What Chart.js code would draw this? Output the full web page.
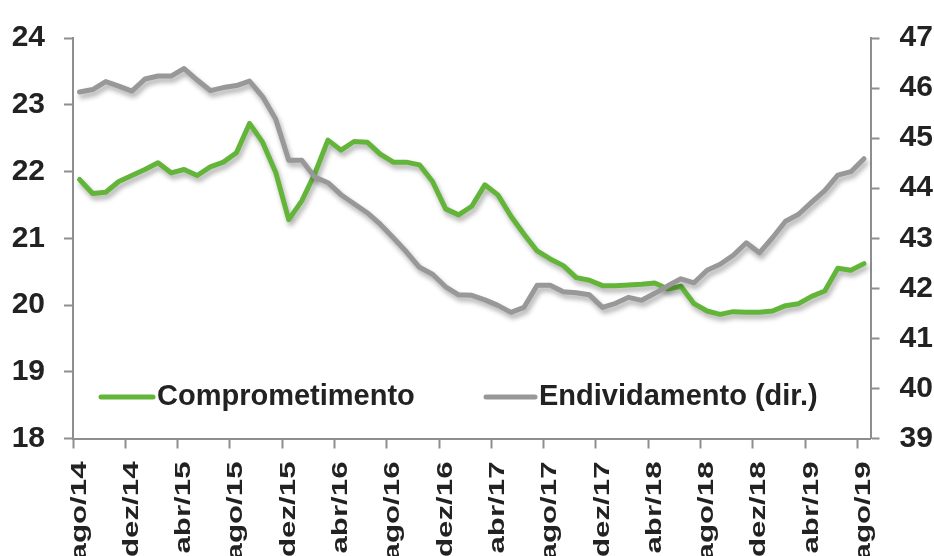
<!DOCTYPE html>
<html>
<head>
<meta charset="utf-8">
<script src="https://cdn.jsdelivr.net/npm/chart.js@4.4.1/dist/chart.umd.min.js"></script>
<style>
  html, body { margin: 0; padding: 0; background: #ffffff; }
  #wrap { width: 934px; height: 556px; position: relative; }
</style>
</head>
<body>
<div id="wrap"><canvas id="chart"></canvas></div>
<script>
// Monthly categories, ago/14 .. ago/19
const months = [
  'ago/14','set/14','out/14','nov/14','dez/14',
  'jan/15','fev/15','mar/15','abr/15','mai/15','jun/15','jul/15','ago/15','set/15','out/15','nov/15','dez/15',
  'jan/16','fev/16','mar/16','abr/16','mai/16','jun/16','jul/16','ago/16','set/16','out/16','nov/16','dez/16',
  'jan/17','fev/17','mar/17','abr/17','mai/17','jun/17','jul/17','ago/17','set/17','out/17','nov/17','dez/17',
  'jan/18','fev/18','mar/18','abr/18','mai/18','jun/18','jul/18','ago/18','set/18','out/18','nov/18','dez/18',
  'jan/19','fev/19','mar/19','abr/19','mai/19','jun/19','jul/19','ago/19'
];

// Comprometimento de renda (%), left axis
const comprometimento = [
  21.88, 21.67, 21.69, 21.85, 21.94, 22.03, 22.13, 21.98, 22.03, 21.94,
  22.07, 22.14, 22.28, 22.72, 22.44, 21.99, 21.28, 21.56, 21.97, 22.47,
  22.32, 22.45, 22.44, 22.26, 22.14, 22.14, 22.10, 21.85, 21.44, 21.35,
  21.48, 21.80, 21.65, 21.33, 21.06, 20.81, 20.69, 20.59, 20.41, 20.37,
  20.29, 20.29, 20.30, 20.31, 20.33, 20.24, 20.28, 20.02, 19.91, 19.86,
  19.90, 19.89, 19.89, 19.91, 19.99, 20.02, 20.13, 20.21, 20.55, 20.52,
  20.62
];

// Endividamento (%), right axis
const endividamento = [
  45.92, 45.97, 46.13, 46.04, 45.94, 46.18, 46.24, 46.24, 46.39, 46.16,
  45.95, 46.01, 46.05, 46.14, 45.83, 45.38, 44.56, 44.56, 44.22, 44.11,
  43.87, 43.69, 43.51, 43.28, 43.01, 42.73, 42.42, 42.28, 42.03, 41.87,
  41.86, 41.77, 41.66, 41.52, 41.62, 42.06, 42.06, 41.93, 41.91, 41.87,
  41.62, 41.70, 41.82, 41.76, 41.90, 42.05, 42.19, 42.11, 42.36, 42.48,
  42.66, 42.91, 42.71, 43.01, 43.34, 43.48, 43.72, 43.95, 44.26, 44.33,
  44.59
];

const leftRange = [18, 24];
const rightRange = [39, 47];
const labelEvery = 4;

const GREEN = '#63b53a';
const GRAY = '#989898';
const AXIS = '#8e8e8e';
const TEXT = '#222222';
const FONT = '"Liberation Sans", Arial, sans-serif';

// soft drop shadow under each line
const lineShadow = {
  id: 'lineShadow',
  beforeDatasetDraw(chart) {
    const c = chart.ctx;
    c.save();
    c.shadowColor = 'rgba(0,0,0,0.32)';
    c.shadowBlur = 5;
    c.shadowOffsetX = 2;
    c.shadowOffsetY = 4;
  },
  afterDatasetDraw(chart) {
    chart.ctx.restore();
  }
};

// vertical month labels, widened along the reading direction
const monthLabels = {
  id: 'monthLabels',
  afterDraw(chart) {
    const sx = chart.scales.x;
    const c = chart.ctx;
    c.save();
    c.font = 'bold 22px ' + FONT;
    c.fillStyle = TEXT;
    c.textAlign = 'right';
    c.textBaseline = 'middle';
    months.forEach((m, i) => {
      if (i % labelEvery !== 0) return;
      c.save();
      c.translate(sx.getPixelForTick(i), sx.top + 23);
      c.rotate(-Math.PI / 2);
      c.scale(1.42, 1);
      c.fillText(m, 0, 0);
      c.restore();
    });
    c.restore();
  }
};

// legend laid inside the plot, along its lower part
const innerLegend = {
  id: 'innerLegend',
  afterDraw(chart) {
    const c = chart.ctx;
    const y = 397;
    const items = [
      { ds: 0, x1: 101, x2: 153, tx: 157 },
      { ds: 1, x1: 486, x2: 535, tx: 539 }
    ];
    c.save();
    c.font = 'bold 29px ' + FONT;
    c.textBaseline = 'middle';
    c.textAlign = 'left';
    items.forEach(it => {
      const ds = chart.data.datasets[it.ds];
      c.strokeStyle = ds.borderColor;
      c.lineWidth = 5;
      c.lineCap = 'round';
      c.beginPath();
      c.moveTo(it.x1, y);
      c.lineTo(it.x2, y);
      c.stroke();
      c.fillStyle = TEXT;
      c.fillText(ds.label, it.tx, y);
    });
    c.restore();
  }
};

const yTickFont = { family: FONT, size: 30, weight: 'bold' };

new Chart(document.getElementById('chart'), {
  type: 'line',
  data: {
    labels: months,
    datasets: [
      {
        label: 'Comprometimento',
        data: comprometimento,
        yAxisID: 'y',
        borderColor: GREEN,
        borderWidth: 5,
        borderJoinStyle: 'round',
        borderCapStyle: 'round',
        pointRadius: 0,
        tension: 0,
        fill: false,
        order: 1
      },
      {
        label: 'Endividamento (dir.)',
        data: endividamento,
        yAxisID: 'y1',
        borderColor: GRAY,
        borderWidth: 5,
        borderJoinStyle: 'round',
        borderCapStyle: 'round',
        pointRadius: 0,
        tension: 0,
        fill: false,
        order: 0
      }
    ]
  },
  options: {
    responsive: true,
    maintainAspectRatio: false,
    animation: false,
    layout: { padding: { top: 30, left: 0, right: 0, bottom: 0 } },
    plugins: {
      legend: { display: false },
      tooltip: { enabled: false }
    },
    scales: {
      x: {
        type: 'category',
        offset: true,
        grid: {
          offset: true,
          drawOnChartArea: false,
          drawTicks: true,
          tickLength: 10,
          tickWidth: 2,
          tickColor: (ctx) => (ctx.index % labelEvery === 0 ? AXIS : 'rgba(0,0,0,0)')
        },
        border: { display: true, color: AXIS, width: 2 },
        ticks: { display: false },
        afterFit(scale) { scale.height = 117.5; }
      },
      y: {
        position: 'left',
        min: leftRange[0],
        max: leftRange[1],
        ticks: { stepSize: 1, font: yTickFont, color: TEXT, padding: 19 },
        grid: { drawOnChartArea: false, tickLength: 9, tickWidth: 2, tickColor: AXIS },
        border: { display: true, color: AXIS, width: 2 },
        afterFit(scale) { scale.width = 73; }
      },
      y1: {
        position: 'right',
        min: rightRange[0],
        max: rightRange[1],
        ticks: { stepSize: 1, font: yTickFont, color: TEXT, padding: 20 },
        grid: { drawOnChartArea: false, tickLength: 9, tickWidth: 2, tickColor: AXIS },
        border: { display: true, color: AXIS, width: 2 },
        afterFit(scale) { scale.width = 63.5; }
      }
    }
  },
  plugins: [lineShadow, monthLabels, innerLegend]
});
</script>
</body>
</html>
